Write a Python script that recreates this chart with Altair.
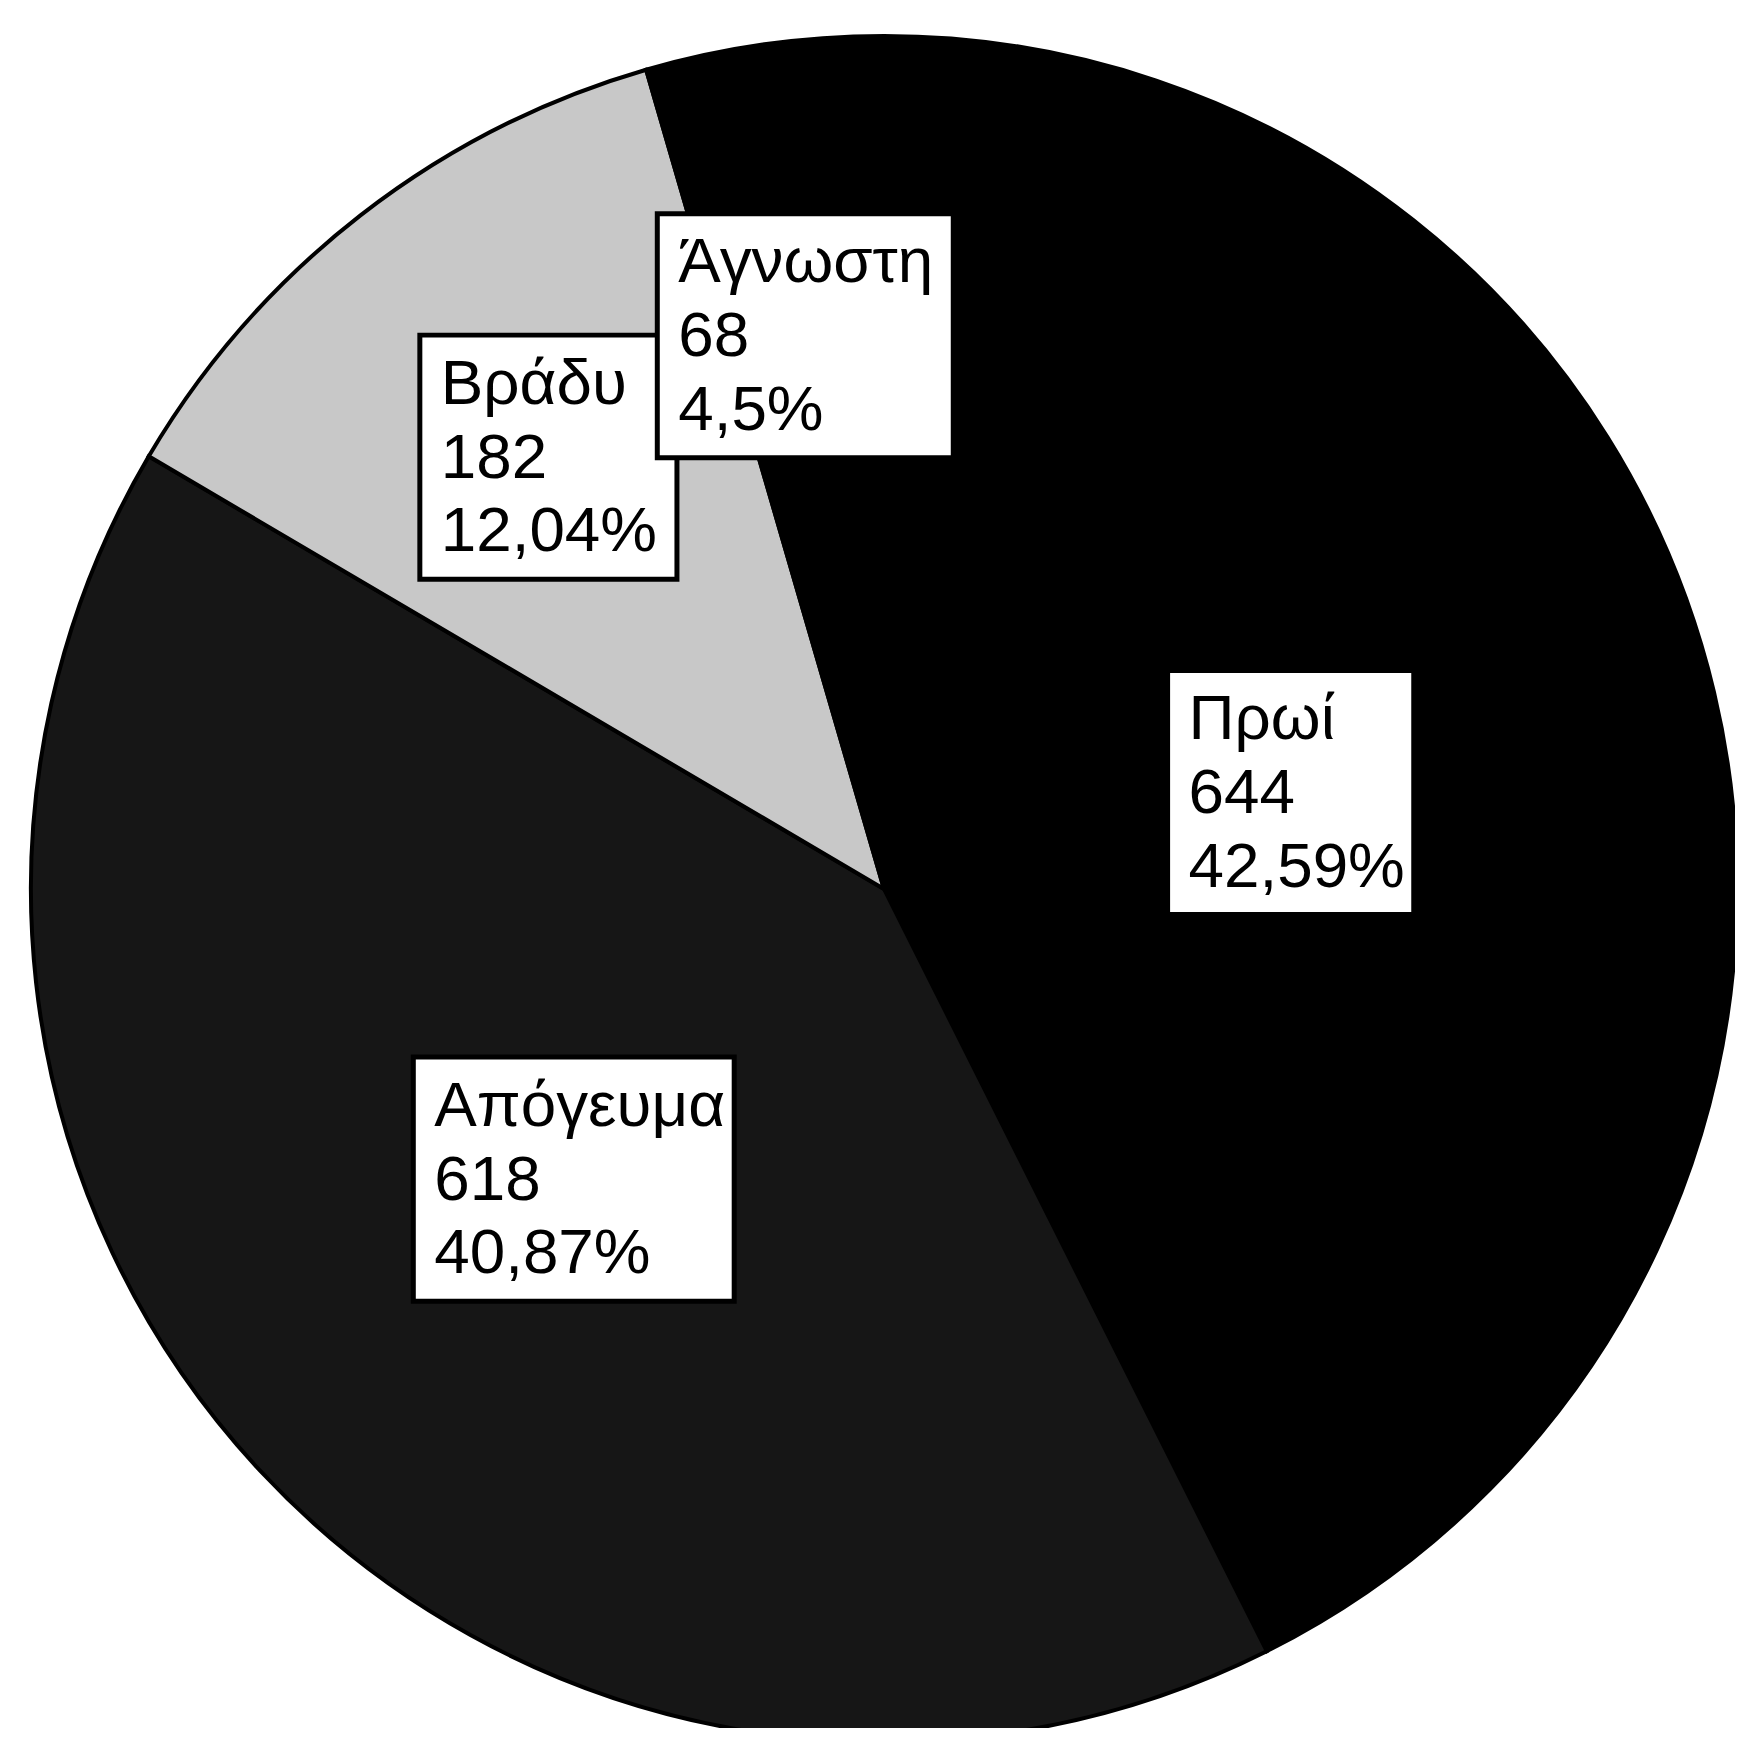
import math
import altair as alt
import pandas as pd

# ---- data ----
categories = ["Πρωί", "Απόγευμα", "Βράδυ", "Άγνωστη"]
counts = [644, 618, 182, 68]
percent_labels = ["42,59%", "40,87%", "12,04%", "4,5%"]
slice_colors = ["#000000", "#161616", "#c8c8c8", "#000000"]

# ---- layout ----
W, H = 1733, 1720          # plot area (px)
CX, CY = 879, 881          # pie centre inside plot area (px)
R = 856                    # pie radius (px)
label_radius = [0.490, 0.498, 0.641, 0.655]   # label distance from centre (fraction of R)
box_w = [247, 322, 258, 297]                  # label box widths (px)
BOX_H = 245
PAD_X = 21
FIRST_BASE = 69
FONT = 64
LINE_H = 74

total = sum(counts)
rows = []
cum = 0
for i, (c, n, p) in enumerate(zip(categories, counts, percent_labels)):
    start = cum / total * 2 * math.pi
    cum += n
    end = cum / total * 2 * math.pi
    mid = (start + end) / 2
    lx = label_radius[i] * R * math.sin(mid)
    ly = label_radius[i] * R * math.cos(mid)
    rows.append({
        "idx": i, "cat": c, "n": n, "pct": p,
        "x1": lx - box_w[i] / 2, "x2": lx + box_w[i] / 2,
        "y1": ly - BOX_H / 2, "y2": ly + BOX_H / 2,
        "tx": lx - box_w[i] / 2 + PAD_X,
        "ty": ly + BOX_H / 2 - FIRST_BASE,
    })
df = pd.DataFrame(rows)

xs = alt.Scale(domain=[-CX, W - CX], zero=False, nice=False)
ys = alt.Scale(domain=[-(H - CY), CY], zero=False, nice=False)

base = alt.Chart(df)

pie = base.mark_arc(outerRadius=R, stroke="black", strokeWidth=4).encode(
    theta=alt.Theta("n:Q", stack=True),
    order=alt.Order("idx:Q"),
    color=alt.Color("cat:N", scale=alt.Scale(domain=categories, range=slice_colors), legend=None),
    x=alt.value(CX),
    y=alt.value(CY),
)

boxes = base.mark_rect(fill="white", stroke="black", strokeWidth=5).encode(
    x=alt.X("x1:Q", scale=xs, axis=None),
    x2="x2:Q",
    y=alt.Y("y1:Q", scale=ys, axis=None),
    y2="y2:Q",
)

texts = base.transform_calculate(
    label="[datum.cat, '' + datum.n, datum.pct]"
).mark_text(
    align="left", baseline="alphabetic", font="Liberation Sans",
    fontSize=FONT, lineHeight=LINE_H, color="black",
).encode(
    x=alt.X("tx:Q", scale=xs, axis=None),
    y=alt.Y("ty:Q", scale=ys, axis=None),
    text="label:N",
)

chart = alt.layer(pie, boxes, texts).properties(
    width=W, height=H, padding=0, autosize="none", background="white",
).configure_view(stroke=None)

chart.save("out.html", embed_options={"renderer": "svg", "actions": False})
